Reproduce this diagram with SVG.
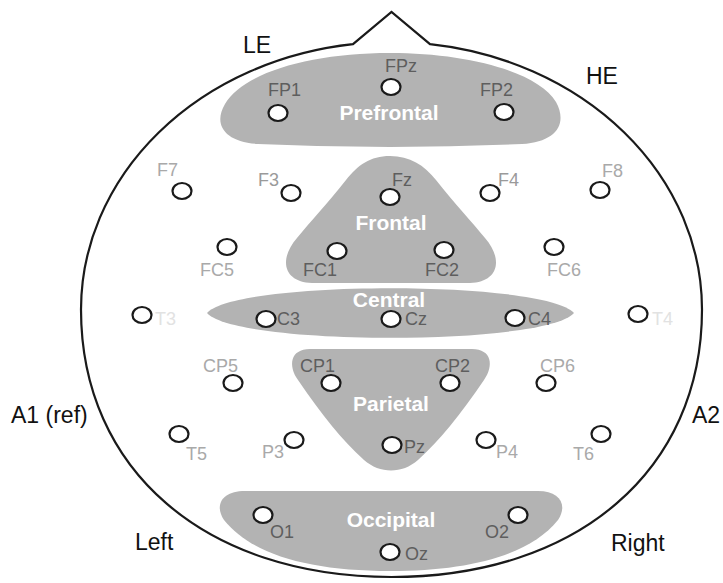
<svg xmlns="http://www.w3.org/2000/svg" width="723" height="583" viewBox="0 0 723 583">
  <style>
    .head { fill: #ffffff; stroke: #1a1a1a; stroke-width: 2.2; stroke-linejoin: miter; }
    .region { fill: #b3b3b3; }
    .el { fill: #ffffff; stroke: #1a1a1a; stroke-width: 2.2; }
    .lbl { font-family: "Liberation Sans", Arial, sans-serif; font-size: 18px; }
    .in { fill: #5e5e5e; }
    .out { fill: #a9a9a9; }
    .mid { fill: #9a9a9a; }
    .faint { fill: #e2e2e2; }
    .reg { font-family: "Liberation Sans", Arial, sans-serif; font-size: 21px; font-weight: bold; fill: #ffffff; text-anchor: middle; }
    .side { font-family: "Liberation Sans", Arial, sans-serif; font-size: 23px; fill: #111111; }
  </style>

  <rect width="723" height="583" fill="#ffffff"/>

  <!-- head outline with nose -->
  <path id="head" class="head" d="M 81,309.5 A 310.5,267.5 0 0 1 353,44.1 L 391.5,12 L 430,44.1 A 310.5,267.5 0 0 1 702,309.5 C 702,470 577.8,577 391.5,577 C 205.2,577 81,470 81,309.5 Z"/>

  <!-- side labels -->
  <g id="side-labels">
    <text class="side" x="243" y="53">LE</text>
    <text class="side" x="586" y="84">HE</text>
    <text class="side" x="11" y="423">A1 (ref)</text>
    <text class="side" x="692" y="423">A2</text>
    <text class="side" x="135" y="550">Left</text>
    <text class="side" x="611" y="551">Right</text>
  </g>

  <!-- cortical regions -->
  <g id="region-prefrontal">
    <path class="region" d="M 390,53 C 468,53 538,72 556,102 C 568,124 556,142 522,144 Q 390,150 258,144 C 224,142 213,124 225,104 C 244,72 312,53 390,53 Z"/>
    <text class="reg" x="389" y="120">Prefrontal</text>
  </g>
  <g id="region-frontal">
    <path class="region" d="M 390,156 C 410,156 424,165 436,180 C 455,204 472,222 485,238 C 504,260 498,282 470,283 L 312,283 C 284,282 278,260 297,238 C 310,222 327,204 346,180 C 358,165 370,156 390,156 Z"/>
    <text class="reg" x="391" y="230">Frontal</text>
  </g>
  <g id="region-central">
    <path class="region" d="M 207,313 C 236,280 545,280 574,313 C 545,346 236,346 207,313 Z"/>
    <text class="reg" x="389" y="307">Central</text>
  </g>
  <g id="region-parietal">
    <path class="region" d="M 310,349 L 472,349 C 492,349 494,366 484,380 C 460,415 440,440 418,460 C 402,474 380,474 364,460 C 342,440 322,415 298,380 C 288,366 290,349 310,349 Z"/>
    <text class="reg" x="391" y="411">Parietal</text>
  </g>
  <g id="region-occipital">
    <path class="region" d="M 245,491 L 538,491 C 560,491 568,505 558,520 C 530,555 470,571 390,571 C 310,571 252,555 224,520 C 214,505 222,491 245,491 Z"/>
    <text class="reg" x="391" y="527">Occipital</text>
  </g>

  <!-- electrodes -->
  <g id="FPz"><ellipse class="el" cx="391" cy="87" rx="9.5" ry="8"/><text class="lbl in" x="385" y="72">FPz</text></g>
  <g id="FP1"><ellipse class="el" cx="278" cy="113" rx="9.5" ry="8"/><text class="lbl in" x="268" y="96">FP1</text></g>
  <g id="FP2"><ellipse class="el" cx="504" cy="112" rx="9.5" ry="8"/><text class="lbl in" x="480" y="96">FP2</text></g>

  <g id="F7"><ellipse class="el" cx="182" cy="191" rx="9.5" ry="8"/><text class="lbl out" x="157" y="176">F7</text></g>
  <g id="F3"><ellipse class="el" cx="291" cy="193" rx="9.5" ry="8"/><text class="lbl mid" x="258" y="186">F3</text></g>
  <g id="Fz"><ellipse class="el" cx="390" cy="197" rx="9.5" ry="8"/><text class="lbl in" x="392" y="186">Fz</text></g>
  <g id="F4"><ellipse class="el" cx="490" cy="193" rx="9.5" ry="8"/><text class="lbl mid" x="498" y="186">F4</text></g>
  <g id="F8"><ellipse class="el" cx="600" cy="190" rx="9.5" ry="8"/><text class="lbl out" x="602" y="177">F8</text></g>

  <g id="FC5"><ellipse class="el" cx="227" cy="247" rx="9.5" ry="8"/><text class="lbl out" x="200" y="276">FC5</text></g>
  <g id="FC1"><ellipse class="el" cx="337" cy="251" rx="9.5" ry="8"/><text class="lbl in" x="303" y="276">FC1</text></g>
  <g id="FC2"><ellipse class="el" cx="444" cy="250" rx="9.5" ry="8"/><text class="lbl in" x="425" y="276">FC2</text></g>
  <g id="FC6"><ellipse class="el" cx="554" cy="247" rx="9.5" ry="8"/><text class="lbl out" x="547" y="276">FC6</text></g>

  <g id="T3"><ellipse class="el" cx="142" cy="315" rx="9.5" ry="8"/><text class="lbl faint" x="155" y="325">T3</text></g>
  <g id="C3"><ellipse class="el" cx="266" cy="319" rx="9.5" ry="8"/><text class="lbl in" x="277" y="325">C3</text></g>
  <g id="Cz"><ellipse class="el" cx="391" cy="319" rx="9.5" ry="8"/><text class="lbl in" x="405" y="325">Cz</text></g>
  <g id="C4"><ellipse class="el" cx="515" cy="318" rx="9.5" ry="8"/><text class="lbl in" x="528" y="325">C4</text></g>
  <g id="T4"><ellipse class="el" cx="638" cy="314" rx="9.5" ry="8"/><text class="lbl faint" x="652" y="325">T4</text></g>

  <g id="CP5"><ellipse class="el" cx="233" cy="383" rx="9.5" ry="8"/><text class="lbl out" x="203" y="372">CP5</text></g>
  <g id="CP1"><ellipse class="el" cx="331" cy="383" rx="9.5" ry="8"/><text class="lbl in" x="300" y="372">CP1</text></g>
  <g id="CP2"><ellipse class="el" cx="450" cy="383" rx="9.5" ry="8"/><text class="lbl in" x="435" y="372">CP2</text></g>
  <g id="CP6"><ellipse class="el" cx="546" cy="383" rx="9.5" ry="8"/><text class="lbl out" x="540" y="372">CP6</text></g>

  <g id="T5"><ellipse class="el" cx="179" cy="434" rx="9.5" ry="8"/><text class="lbl out" x="186" y="460">T5</text></g>
  <g id="P3"><ellipse class="el" cx="294" cy="440" rx="9.5" ry="8"/><text class="lbl out" x="262" y="458">P3</text></g>
  <g id="Pz"><ellipse class="el" cx="392" cy="445" rx="9.5" ry="8"/><text class="lbl in" x="404" y="453">Pz</text></g>
  <g id="P4"><ellipse class="el" cx="486" cy="440" rx="9.5" ry="8"/><text class="lbl out" x="496" y="458">P4</text></g>
  <g id="T6"><ellipse class="el" cx="601" cy="434" rx="9.5" ry="8"/><text class="lbl out" x="573" y="460">T6</text></g>

  <g id="O1"><ellipse class="el" cx="263" cy="515" rx="9.5" ry="8"/><text class="lbl in" x="270" y="538">O1</text></g>
  <g id="O2"><ellipse class="el" cx="518" cy="515" rx="9.5" ry="8"/><text class="lbl in" x="485" y="538">O2</text></g>
  <g id="Oz"><ellipse class="el" cx="390" cy="552" rx="9.5" ry="8"/><text class="lbl in" x="405" y="560">Oz</text></g>
</svg>
